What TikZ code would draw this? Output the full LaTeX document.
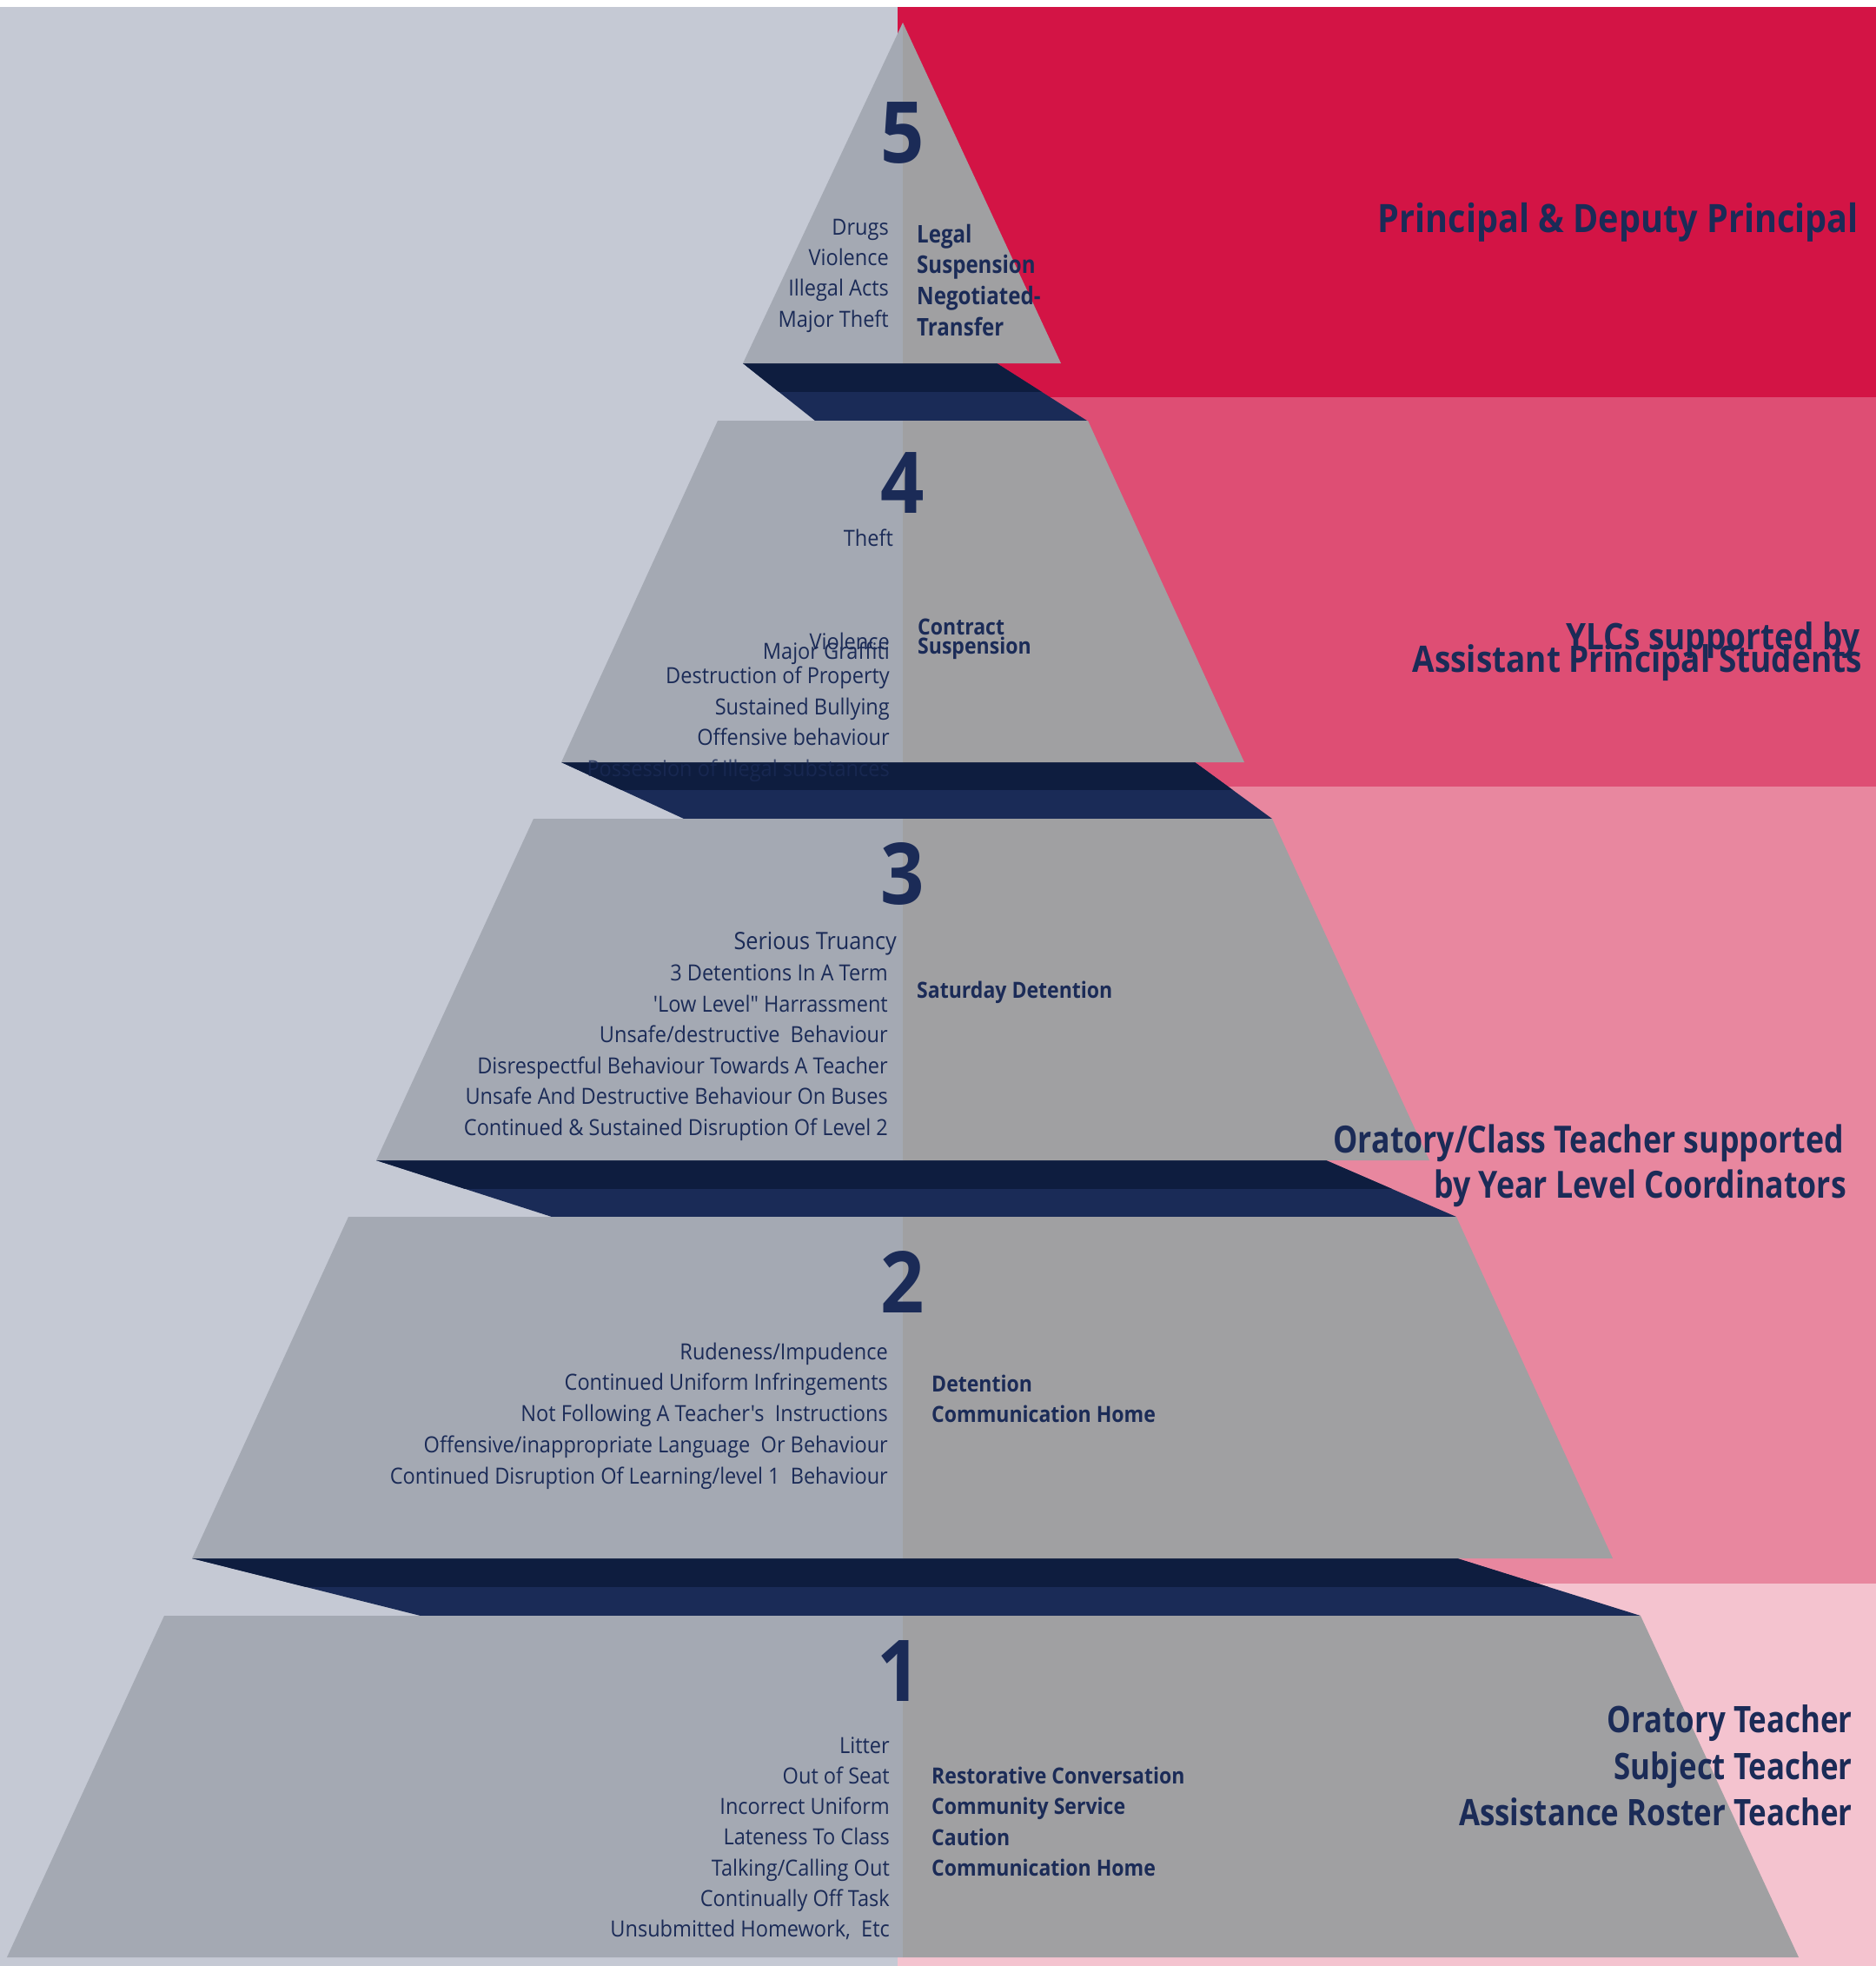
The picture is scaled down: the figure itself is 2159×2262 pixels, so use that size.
\documentclass[tikz,border=0pt]{standalone}
\usepackage{fontspec}
\setmainfont{Open Sans}
\newfontfamily\fontreg[FakeStretch=0.92]{Open Sans}
\newfontfamily\fontbld[FakeStretch=0.90]{Open Sans}
\newfontfamily\fontrole[FakeStretch=0.83]{Open Sans}
\newfontfamily\fontroleb[FakeStretch=0.88]{Open Sans}
\newfontfamily\fontfive[FakeStretch=0.86]{Open Sans}
\definecolor{bgl}{HTML}{C5C9D4}
\definecolor{redA}{HTML}{D31445}
\definecolor{redB}{HTML}{DE4E74}
\definecolor{redC}{HTML}{E8879F}
\definecolor{redD}{HTML}{F4C3CF}
\definecolor{grayL}{HTML}{A4A9B3}
\definecolor{grayR}{HTML}{A0A0A2}
\definecolor{bandhi}{HTML}{0E1D3F}
\definecolor{bandlo}{HTML}{1A2B57}
\definecolor{navy}{HTML}{1B2B57}
\newcommand\pyrband[7]{%
  \begin{scope}
    \clip (#1,#5) -- (#2,#5) -- (#3,#7) -- (#4,#7) -- cycle;
    \fill[bandlo] (0,#5) rectangle (2159,#7);
    \fill[bandhi] (0,#5) rectangle (2159,#6);
  \end{scope}}
\newcommand\pyrlevel[6]{%
  \fill[grayL] (#1,#5) -- (1039,#5) -- (1039,#6) -- (#4,#6) -- cycle;
  \fill[grayR] (1039,#5) -- (#2,#5) -- (#3,#6) -- (1039,#6) -- cycle;}
\begin{document}
\begin{tikzpicture}[x=1pt,y=-1pt,
  num/.style={text=navy,font=\fontbld\bfseries\fontsize{98}{98}\selectfont,inner sep=0pt,anchor=base},
  lt/.style={text=navy,font=\fontreg\fontsize{25.6}{30}\selectfont,inner sep=0pt,anchor=base east},
  rt/.style={text=navy,font=\fontbld\bfseries\fontsize{25.6}{30}\selectfont,inner sep=0pt,anchor=base west},
  role/.style={text=navy,font=\fontrole\bfseries\fontsize{43}{50}\selectfont,inner sep=0pt,anchor=base east}]
\useasboundingbox (0,0) rectangle (2159,2262);
\fill[white] (0,0) rectangle (2159,2262);
\fill[bgl] (0,8) rectangle (1033,2262);
\fill[redA] (1033,8) rectangle (2159,457);
\fill[redB] (1033,457) rectangle (2159,905);
\fill[redC] (1033,905) rectangle (2159,1822);
\fill[redD] (1033,1822) rectangle (2159,2262);
% bands
\pyrband{855}{1147}{1251}{938}{418}{451}{484}
\pyrband{646}{1375}{1464}{787}{877}{909}{942}
\pyrband{433}{1526}{1676}{635}{1335}{1368}{1400}
\pyrband{221}{1677}{1888}{484}{1793}{1826}{1859}
% levels
\pyrlevel{1039}{1039}{1221}{855}{26}{418}
\pyrlevel{826}{1252}{1432}{646}{484}{877}
\pyrlevel{614}{1464}{1645}{433}{942}{1335}
\pyrlevel{401}{1676}{1856}{221}{1400}{1793}
\pyrlevel{189}{1888}{2070}{8}{1859}{2252}
% level 5
\node[num] (n5) at (1039,187) {5};
\foreach \t [count=\i from 0] in {Drugs,Violence,Illegal Acts,Major Theft}
  \node[lt] (f5-\i) at (1023,{270+35.4*\i}) {\t};
\foreach \t [count=\i from 0] in {Legal,Suspension,Negotiated-,Transfer}
  \node[rt,font=\fontfive\bfseries\fontsize{28}{30}\selectfont] (c5-\i) at (1055,{279+35.7*\i}) {\t};
% level 4
\node[num] (n4) at (1039,590) {4};
\node[lt] (f4-0) at (1028,628) {Theft};
\node[lt] (f4-1) at (1024,747) {Violence};
\node[lt] (f4-2) at (1024,758) {Major Graffiti};
\node[lt] (f4-3) at (1024,786) {Destruction of Property};
\node[lt] (f4-4) at (1024,822) {Sustained Bullying};
\node[lt] (f4-5) at (1024,857) {Offensive behaviour};
\node[lt,opacity=0.75] (f4-6) at (1024,893) {Possession of Illegal substances};
\node[rt] (c4-0) at (1056,730) {Contract};
\node[rt] (c4-1) at (1056,752) {Suspension};
% level 3
\node[num] (n3) at (1039,1040) {3};
\node[lt,font=\fontreg\fontsize{27.5}{30}\selectfont] (f3-0) at (1032,1092) {Serious Truancy};
\foreach \t [count=\i] in {3 Detentions In A Term,'Low Level" Harrassment,Unsafe/destructive\ \ Behaviour,Disrespectful Behaviour Towards A Teacher,Unsafe And Destructive Behaviour On Buses,Continued \& Sustained Disruption Of Level 2}
  \node[lt] (f3-\i) at (1022,{1093+35.5*\i}) {\t};
\node[rt] (c3-0) at (1055,1148) {Saturday Detention};
% level 2
\node[num] (n2) at (1039,1510) {2};
\foreach \t [count=\i from 0] in {Rudeness/Impudence,Continued Uniform Infringements,Not Following A Teacher's\ \ Instructions,Offensive/inappropriate Language\ \ Or Behaviour,Continued Disruption Of Learning/level 1\ \ Behaviour}
  \node[lt] (f2-\i) at (1022,{1564+35.8*\i}) {\t};
\node[rt] (c2-0) at (1072,1601) {Detention};
\node[rt] (c2-1) at (1072,1636) {Communication Home};
% level 1
\node[num] (n1) at (1035,1957) {1};
\foreach \t [count=\i from 0] in {Litter,Out of Seat,Incorrect Uniform,Lateness To Class,Talking/Calling Out,Continually Off Task,{Unsubmitted Homework,\ \ Etc}}
  \node[lt] (f1-\i) at (1024,{2017+35.3*\i}) {\t};
\foreach \t [count=\i from 0] in {Restorative Conversation,Community Service,Caution,Communication Home}
  \node[rt] (c1-\i) at (1072,{2052+35.5*\i}) {\t};
% roles
\node[role,font=\fontroleb\bfseries\fontsize{45}{50}\selectfont] (r5) at (2139,267) {Principal \& Deputy Principal};
\node[role,font=\fontroleb\bfseries\fontsize{42}{50}\selectfont] (r4a) at (2141,747) {YLCs supported by};
\node[role,font=\fontroleb\bfseries\fontsize{42}{50}\selectfont] (r4b) at (2143,773) {Assistant Principal Students};
\node[role] (r3a) at (2122,1326) {Oratory/Class Teacher supported};
\node[role] (r3b) at (2125,1378) {by Year Level Coordinators};
\node[role,font=\fontrole\bfseries\fontsize{42}{50}\selectfont] (r1a) at (2132,1993) {Oratory Teacher};
\node[role,font=\fontrole\bfseries\fontsize{42}{50}\selectfont] (r1b) at (2132,2047) {Subject Teacher};
\node[role,font=\fontrole\bfseries\fontsize{42}{50}\selectfont] (r1c) at (2132,2100) {Assistance Roster Teacher};
\end{tikzpicture}
\end{document}
